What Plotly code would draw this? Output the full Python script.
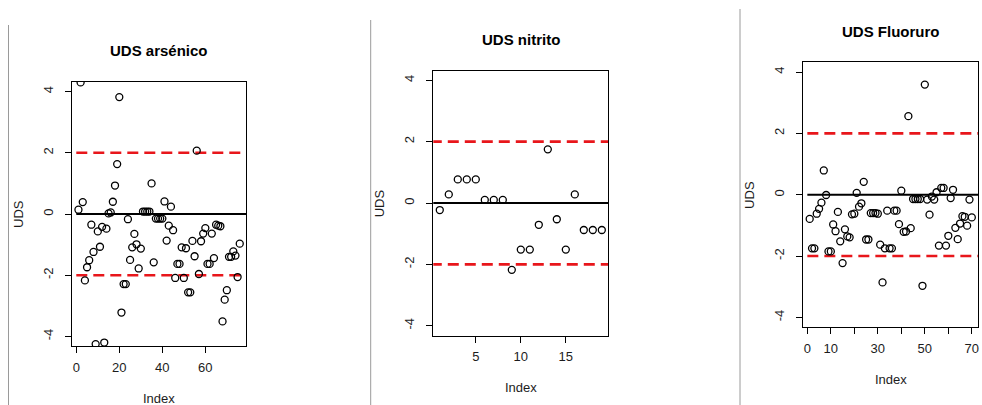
import plotly.graph_objects as go

# Standardised residuals (UDS) per sample, one list per analyte
uds_arsenico = [
    0.14, 4.30, 0.39, -2.17, -1.74, -1.51, -0.35, -1.24, -4.25, -0.57,
    -1.07, -0.42, -4.20, -0.48, 0.02, 0.05, 0.40, 0.93, 1.63, 3.82,
    -3.22, -2.29, -2.29, -0.17, -1.50, -1.09, -0.65, -0.99, -1.78, -1.13,
    0.08, 0.08, 0.08, 0.08, 1.00, -1.58, -0.15, -0.15, -0.15, -0.15,
    0.41, -0.87, -0.38, 0.24, -0.53, -2.09, -1.63, -1.63, -1.09, -2.09,
    -1.12, -2.56, -2.56, -0.88, -1.38, 2.07, -1.96, -0.89, -0.64, -0.46,
    -1.63, -1.63, -0.64, -1.44, -0.35, -0.38, -0.40, -3.51, -2.80, -2.49,
    -1.40, -1.40, -1.22, -1.36, -2.06, -0.97,
]
uds_nitrito = [
    -0.23, 0.28, 0.77, 0.77, 0.77, 0.10, 0.10, 0.10, -2.18, -1.52,
    -1.52, -0.71, 1.75, -0.53, -1.52, 0.28, -0.88, -0.88, -0.88,
]
uds_fluoruro = [
    -0.79, -1.75, -1.75, -0.62, -0.46, -0.26, 0.79, -0.01, -1.85, -1.85,
    -0.97, -1.19, -0.56, -1.52, -2.23, -1.13, -1.36, -1.39, -0.64, -0.62,
    0.06, -0.39, -0.28, 0.42, -1.46, -1.46, -0.60, -0.60, -0.60, -0.62,
    -1.63, -2.86, -1.75, -0.52, -1.75, -1.75, -0.52, -0.52, -0.96, 0.13,
    -1.21, -1.20, 2.56, -1.09, -0.14, -0.14, -0.14, -0.14, -2.97, 3.59,
    -0.16, -0.65, -0.06, -0.16, 0.08, -1.66, 0.22, 0.22, -1.66, -1.34,
    -0.11, 0.16, -1.08, -1.45, -0.94, -0.70, -0.72, -1.01, -0.16, -0.74,
]

titles = ["UDS arsénico", "UDS nitrito", "UDS Fluoruro"]
series = [uds_arsenico, uds_nitrito, uds_fluoruro]

x_tickvals = [[0, 20, 40, 60], [5, 10, 15], [0, 10, 20, 30, 40, 50, 60, 70]]
x_ticktext = [["0", "20", "40", "60"], ["5", "10", "15"],
              ["0", "10", "", "30", "", "50", "", "70"]]
y_tickvals = [-4, -2, 0, 2, 4]
y_ticktext = ["-4", "-2", "0", "2", "4"]
limit = 2          # control limits at +/- 2
y_lim = 4          # ylim = c(-4, 4)

W, H = 982, 405
# plot boxes in pixels: (left, right, top, bottom)
boxes = [(72, 246.2, 81.8, 346.2), (433.3, 608.3, 70.5, 335.5), (803.2, 978.3, 62.2, 327.2)]
# grey separators between the three panels: (x, top)
separators = [(8.5, 25), (370.7, 20), (740, 9)]

FONT = "Liberation Sans, Arial, Helvetica, sans-serif"
INK = "#1c1c1c"
RED = "#e8161b"

fig = go.Figure()
layout = dict(
    template="none",
    width=W, height=H, margin=dict(l=0, r=0, t=0, b=0),
    paper_bgcolor="white", plot_bgcolor="white", showlegend=False,
    font=dict(family=FONT, size=13, color=INK),
    annotations=[], shapes=[],
)

for k, (vals, title) in enumerate(zip(series, titles)):
    n = len(vals)
    idx = list(range(1, n + 1))
    sfx = "" if k == 0 else str(k + 1)
    xa, ya = "x" + sfx, "y" + sfx
    left, right, top, bottom = boxes[k]
    pad = 0.04 * (n - 1)
    ypad = 0.04 * 2 * y_lim

    # reference lines at 0 and +/- limit
    fig.add_trace(go.Scatter(x=[0, n + 10], y=[0, 0], mode="lines",
                             line=dict(color="black", width=2),
                             xaxis=xa, yaxis=ya, hoverinfo="skip"))
    for lv in (limit, -limit):
        fig.add_trace(go.Scatter(x=[0, n + 10], y=[lv, lv], mode="lines",
                                 line=dict(color=RED, width=2.6, dash="11px,6px"),
                                 xaxis=xa, yaxis=ya, hoverinfo="skip"))
    fig.add_trace(go.Scatter(x=idx, y=vals, mode="markers",
                             marker=dict(symbol="circle-open", size=7,
                                         color="black", line=dict(width=1.3)),
                             xaxis=xa, yaxis=ya))

    axis_common = dict(showline=True, linecolor="black", linewidth=1.3, mirror=True,
                       ticks="outside", ticklen=6, tickwidth=1, tickcolor="black",
                       showgrid=False, zeroline=False, fixedrange=True,
                       tickfont=dict(family=FONT, size=13, color=INK))
    layout["xaxis" + sfx] = dict(
        axis_common, domain=[left / W, right / W], anchor=ya,
        range=[1 - pad, n + pad], tickmode="array",
        tickvals=x_tickvals[k], ticktext=x_ticktext[k], ticklabelstandoff=3)
    layout["yaxis" + sfx] = dict(
        axis_common, domain=[1 - bottom / H, 1 - top / H], anchor=xa,
        range=[-y_lim - ypad, y_lim + ypad], tickmode="array",
        tickvals=y_tickvals, ticktext=y_ticktext, tickangle=-90, ticklabelstandoff=7)

    layout["annotations"] += [
        dict(text="<b>" + title + "</b>", xref=xa + " domain", yref=ya + " domain",
             x=0.5, y=1, yanchor="middle", yshift=31, showarrow=False,
             font=dict(family=FONT, size=15, color="black")),
        dict(text="Index", xref=xa + " domain", yref=ya + " domain",
             x=0.5, y=0, yanchor="middle", yshift=-52, showarrow=False,
             font=dict(family=FONT, size=13, color=INK)),
        dict(text="UDS", xref=xa + " domain", yref=ya + " domain",
             x=0, y=0.5, xanchor="center", xshift=-54, textangle=-90, showarrow=False,
             font=dict(family=FONT, size=13, color=INK)),
    ]
    sx, stop = separators[k]
    layout["shapes"].append(dict(type="line", xref="paper", yref="paper",
                                 x0=sx / W, x1=sx / W, y0=0, y1=1 - stop / H,
                                 line=dict(color="#9a9a9a", width=1)))

fig.update_layout(**layout)
fig.write_html("out.html")
